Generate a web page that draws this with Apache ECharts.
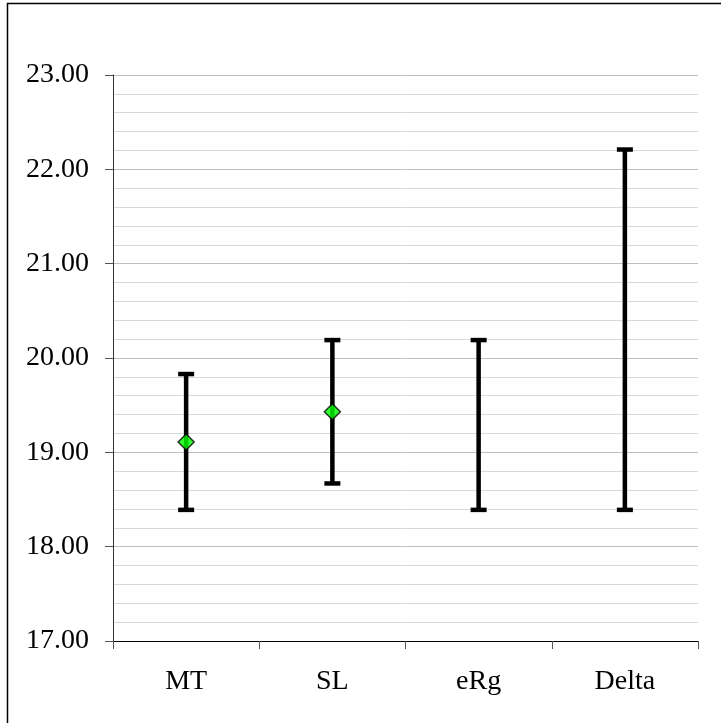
<!DOCTYPE html>
<html>
<head>
<meta charset="utf-8">
<script src="https://cdn.jsdelivr.net/npm/echarts@6/dist/echarts.min.js"></script>
<style>
  html, body { margin: 0; padding: 0; background: #fff; }
  #chart { width: 721px; height: 723px; }
</style>
</head>
<body>
<div id="chart"></div>
<script>
// categories and values
const categories = ['MT', 'SL', 'eRg', 'Delta'];
const meanValues = [19.11, 19.43, null, null];
const lowValues = [18.39, 18.67, 18.39, 18.39];
const highValues = [19.83, 20.19, 20.19, 22.21];

const chart = echarts.init(document.getElementById('chart'));
const serif = "'Liberation Serif', 'Times New Roman', serif";

// error bar: vertical line plus two caps
function renderErrorBar(params, api) {
  const low = api.coord([api.value(0), api.value(1)]);
  const high = api.coord([api.value(0), api.value(2)]);
  const half = 8;
  const style = { stroke: '#000', lineWidth: 4.5 };
  return {
    type: 'group',
    children: [
      { type: 'line', shape: { x1: low[0], y1: low[1], x2: high[0], y2: high[1] }, style: style },
      { type: 'line', shape: { x1: high[0] - half, y1: high[1], x2: high[0] + half, y2: high[1] }, style: style },
      { type: 'line', shape: { x1: low[0] - half, y1: low[1], x2: low[0] + half, y2: low[1] }, style: style }
    ]
  };
}

const option = {
  backgroundColor: '#fff',
  animation: false,
  graphic: [{
    type: 'rect',
    shape: { x: 7.5, y: 3.5, width: 760, height: 760 },
    style: { fill: 'none', stroke: '#000', lineWidth: 1.5 },
    silent: true
  }],
  grid: { left: 113, right: 23, top: 75, bottom: 82 },
  xAxis: {
    type: 'category',
    data: categories,
    boundaryGap: true,
    axisLine: { lineStyle: { color: '#000', width: 1 } },
    axisTick: { show: true, length: 8, lineStyle: { color: '#555' } },
    axisLabel: { color: '#000', fontFamily: serif, fontSize: 28, margin: 27 },
    splitLine: { show: false }
  },
  yAxis: {
    type: 'value',
    min: 17,
    max: 23,
    interval: 1,
    axisLine: { show: true, lineStyle: { color: '#333', width: 1 } },
    axisTick: { show: true, length: 8, lineStyle: { color: '#555' } },
    axisLabel: {
      color: '#000', fontFamily: serif, fontSize: 28, margin: 24,
      formatter: v => v.toFixed(2)
    },
    splitLine: { show: true, lineStyle: { color: '#c0c0c0', width: 1 } },
    minorTick: { show: false, splitNumber: 5 },
    minorSplitLine: { show: true, lineStyle: { color: '#d9d9d9', width: 1 } }
  },
  series: [
    {
      type: 'custom',
      renderItem: renderErrorBar,
      data: categories.map((c, i) => [i, lowValues[i], highValues[i]]),
      encode: { x: 0, y: [1, 2] },
      z: 2
    },
    {
      type: 'scatter',
      data: meanValues,
      symbol: 'diamond',
      symbolSize: [16, 16],
      itemStyle: { color: '#00ff00', borderColor: '#000', borderWidth: 1.5 },
      z: 3
    }
  ]
};

chart.setOption(option);
</script>
</body>
</html>
